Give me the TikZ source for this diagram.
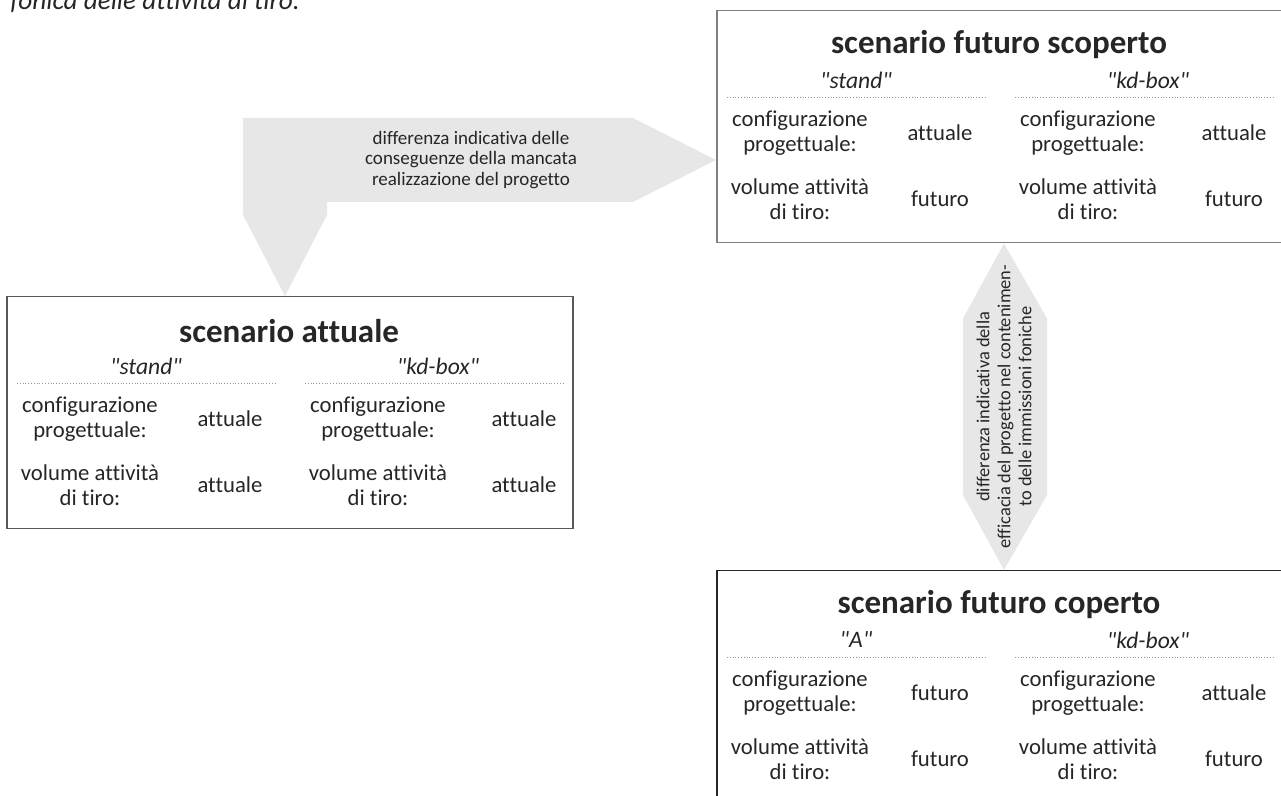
\documentclass[tikz,border=0pt]{standalone}
\usepackage{fontspec}
\setmainfont{Carlito}[Ligatures={TeXOff,CommonOff}]
\usetikzlibrary{calc}
\definecolor{arrowgray}{RGB}{231,231,232}
\definecolor{txt}{RGB}{38,38,38}
\definecolor{dotgray}{RGB}{150,150,150}
\definecolor{bordA}{RGB}{128,128,128}
\definecolor{bordB}{RGB}{89,89,89}
\definecolor{bordC}{RGB}{38,38,38}
\tikzset{
  scbox/.style={draw, line width=0.75pt, minimum width=283pt, inner sep=0pt, anchor=north west},
  ttl/.style={font=\bfseries\fontsize{16.5}{19}\selectfont, text=txt, inner sep=0pt},
  hdr/.style={font=\itshape\fontsize{11.8}{13}\selectfont, text=txt, inner sep=0pt},
  lbl/.style={align=center, font=\fontsize{11.35}{12.5}\selectfont, text=txt, inner sep=0pt},
  sepline/.style={draw=dotgray, line width=0.4pt, densely dotted},
  arr/.style={fill=arrowgray, draw=none},
  atext/.style={align=center, font=\fontsize{9.5}{10.2}\selectfont, text=txt, inner sep=0pt},
  captxt/.style={font=\itshape\fontsize{13.6}{16}\selectfont, text=txt, inner sep=0pt, anchor=base west}
}
\newcommand{\scencontent}[7]{%
  \node[ttl] (title) at (283,35) {#1};
  \node[hdr] (h1) at (140,70) {"#2"};
  \node[hdr] (h2) at (432,70) {"#3"};
  \draw[sepline] (11,87) -- (270,87);
  \draw[sepline] (299,87) -- (557,87);
  \node[lbl] (l1) at (84,123) {configurazione\\progettuale:};
  \node[lbl] (v1) at (224,123) {#4};
  \node[lbl] (l2) at (372,123) {configurazione\\progettuale:};
  \node[lbl] (v2) at (518,123) {#5};
  \node[lbl] (l3) at (84,189) {volume attività\\di tiro:};
  \node[lbl] (v3) at (224,189) {#6};
  \node[lbl] (l4) at (372,189) {volume attività\\di tiro:};
  \node[lbl] (v4) at (518,189) {#7};
}
\begin{document}
\begin{tikzpicture}[x=0.5pt,y=-0.5pt]
\useasboundingbox (0,0) rectangle (1281,796);
\clip (0,0) rectangle (1281,796);

% caption fragment at top
\node[captxt] (captext) at (10,10) {fonica delle attività di tiro.};

% boxes
\node[scbox, draw=bordA, minimum height=116pt] (sfs) at (716,10) {};
\node[scbox, draw=bordB, minimum height=116pt] (sa) at (6,296) {};
\node[scbox, draw=bordC, minimum height=130pt] (sfc) at (716,570) {};

% L-shaped arrow
\coordinate (tipA) at ($(sfs.north west)+(0,150)$);
\coordinate (tipB) at ($(sa.north west)+(279,0)$);
\fill[arr] ($(tipA)+(-83,-42)$) -- (tipA) -- ($(tipA)+(-83,42)$) -- (327,202) -- (327,215)
   -- (tipB) -- (243,215) -- (243,118) -- cycle;
\node[atext] (la) at (471,160) {differenza indicativa delle\\conseguenze della mancata\\realizzazione del progetto};

% vertical double arrow
\coordinate (tipC) at ($(sfs.south west)+(288,0)$);
\coordinate (tipD) at ($(sfc.north west)+(288,0)$);
\fill[arr] (tipC) -- ($(tipC)+(43,75)$) -- ($(tipD)+(43,-75)$) -- (tipD) -- ($(tipD)+(-41,-75)$) -- ($(tipC)+(-41,75)$) -- cycle;
\node[atext, rotate=90, font=\fontsize{9.2}{10.5}\selectfont] (lb) at ($(tipC)!0.5!(tipD)$) {differenza indicativa della\\efficacia del progetto nel contenimen-\\to delle immissioni foniche};

% redraw box borders over arrows
\node[scbox, draw=bordA, minimum height=116pt] at (716,10) {};
\node[scbox, draw=bordB, minimum height=116pt] at (6,296) {};
\node[scbox, draw=bordC, minimum height=130pt] at (716,570) {};

\begin{scope}[shift={(716,10)}, name prefix=sfs-]
  \scencontent{scenario futuro scoperto}{stand}{kd-box}{attuale}{attuale}{futuro}{futuro}
\end{scope}
\begin{scope}[shift={(6,296)}, name prefix=sa-]
  \scencontent{scenario attuale}{stand}{kd-box}{attuale}{attuale}{attuale}{attuale}
\end{scope}
\begin{scope}[shift={(716,570)}, name prefix=sfc-]
  \scencontent{scenario futuro coperto}{A}{kd-box}{futuro}{attuale}{futuro}{futuro}
\end{scope}
\end{tikzpicture}
\end{document}
